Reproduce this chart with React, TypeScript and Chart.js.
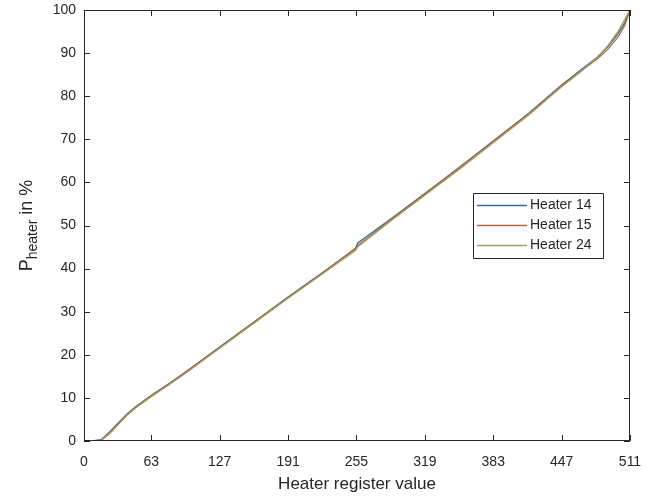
import React, { useEffect, useRef } from "react";
import { Chart, registerables } from "chart.js";

Chart.register(...registerables);

const registers = [0, 8, 16, 24, 32, 40, 48, 63, 80, 96, 127, 160, 191, 224, 254, 256, 288, 319, 352, 383, 416, 447, 464, 480, 490, 500, 506, 511];
const heater14 = [0, 0, 0.3, 2.1, 4.2, 6.2, 7.9, 10.6, 13.4, 16.2, 21.8, 27.8, 33.4, 39.2, 44.6, 45.9, 51.7, 57.4, 63.6, 69.6, 76.0, 82.6, 85.9, 89.0, 91.4, 94.6, 97.0, 100];
const heater15 = [0, 0, 0.2, 1.9, 4.0, 6.0, 7.8, 10.5, 13.3, 16.1, 21.7, 27.7, 33.3, 39.1, 44.7, 45.3, 51.5, 57.3, 63.5, 69.5, 75.9, 82.5, 85.6, 88.6, 90.8, 93.8, 96.4, 100];
const heater24 = [0, 0, 0.1, 1.7, 3.8, 5.9, 7.6, 10.3, 13.1, 15.9, 21.5, 27.5, 33.1, 38.9, 44.2, 45.0, 51.2, 57.0, 63.2, 69.2, 75.6, 82.2, 85.5, 88.9, 91.6, 95.1, 97.8, 100];

const seriesNames = ["Heater 14", "Heater 15", "Heater 24"];
const seriesColors = ["#2f6d9e", "#b4643e", "#a39e62"];
const xTicks = [0, 63, 127, 191, 255, 319, 383, 447, 511];
const yTicks = [0, 10, 20, 30, 40, 50, 60, 70, 80, 90, 100];

const FONT = "'Liberation Sans', Arial, Helvetica, sans-serif";
const INK = "#262626";

const decorPlugin = {
  id: "decor",
  afterDatasetsDraw(chart: any) {
    const { ctx, chartArea, scales } = chart;
    const { left, right, top, bottom } = chartArea;
    const x = scales.x;
    const y = scales.y;
    ctx.save();
    ctx.strokeStyle = INK;
    ctx.lineWidth = 1;
    ctx.beginPath();
    ctx.rect(left + 0.5, top + 0.5, right - left - 1, bottom - top - 1);
    ctx.stroke();
    const tl = 6;
    ctx.beginPath();
    xTicks.forEach((v) => {
      const px = Math.round(x.getPixelForValue(v)) + 0.5;
      ctx.moveTo(px, bottom);
      ctx.lineTo(px, bottom - tl);
      ctx.moveTo(px, top);
      ctx.lineTo(px, top + tl);
    });
    yTicks.forEach((v) => {
      const py = Math.round(y.getPixelForValue(v)) + 0.5;
      ctx.moveTo(left, py);
      ctx.lineTo(left + tl, py);
      ctx.moveTo(right, py);
      ctx.lineTo(right - tl, py);
    });
    ctx.stroke();

    // legend
    const bw = 130;
    const bh = 65;
    const bx = right - 157;
    const by = top + 183;
    ctx.fillStyle = "#ffffff";
    ctx.fillRect(bx, by, bw, bh);
    ctx.strokeStyle = INK;
    ctx.beginPath();
    ctx.rect(bx + 0.5, by + 0.5, bw, bh);
    ctx.stroke();
    ctx.font = `14px ${FONT}`;
    ctx.textBaseline = "middle";
    ctx.textAlign = "left";
    chart.data.datasets.forEach((ds: any, i: number) => {
      const ly = by + 12.5 + i * 20;
      ctx.strokeStyle = ds.borderColor;
      ctx.lineWidth = 1.3;
      ctx.beginPath();
      ctx.moveTo(bx + 4, ly);
      ctx.lineTo(bx + 54, ly);
      ctx.stroke();
      ctx.fillStyle = INK;
      ctx.fillText(ds.label, bx + 57, ly);
    });
    ctx.restore();
  },
  afterDraw(chart: any) {
    const { ctx, chartArea } = chart;
    const cy = (chartArea.top + chartArea.bottom) / 2;
    ctx.save();
    ctx.translate(32, cy);
    ctx.rotate(-Math.PI / 2);
    ctx.fillStyle = INK;
    ctx.textBaseline = "alphabetic";
    ctx.textAlign = "left";
    const big = `18px ${FONT}`;
    const small = `14px ${FONT}`;
    const p = "P";
    const sub = "heater";
    const rest = " in %";
    ctx.font = big;
    const wP = ctx.measureText(p).width;
    const wRest = ctx.measureText(rest).width;
    ctx.font = small;
    const wSub = ctx.measureText(sub).width;
    const total = wP + wSub + wRest;
    let u = -total / 2;
    ctx.font = big;
    ctx.fillText(p, u, 0);
    u += wP;
    ctx.font = small;
    ctx.fillText(sub, u, 5);
    u += wSub;
    ctx.font = big;
    ctx.fillText(rest, u, 0);
    ctx.restore();
  },
};

export default function App() {
  const ref = useRef<HTMLCanvasElement | null>(null);
  useEffect(() => {
    if (!ref.current) return;
    Chart.defaults.font.family = FONT;
    const series = [heater14, heater15, heater24];
    const chart = new Chart(ref.current, {
      type: "line",
      data: {
        datasets: series.map((vals, i) => ({
          label: seriesNames[i],
          data: registers.map((r, k) => ({ x: r, y: vals[k] })),
          borderColor: seriesColors[i],
          backgroundColor: seriesColors[i],
          borderWidth: 1.3,
          pointRadius: 0,
          tension: 0,
          fill: false,
          order: 2 - i,
        })),
      },
      options: {
        responsive: false,
        animation: false,
        layout: { padding: { top: 10, right: 27, bottom: 2, left: 0 } },
        plugins: { legend: { display: false }, tooltip: { enabled: false } },
        scales: {
          x: {
            type: "linear",
            min: 0,
            max: 511,
            afterBuildTicks: (s: any) => {
              s.ticks = xTicks.map((v) => ({ value: v }));
            },
            afterFit: (s: any) => {
              s.height = 54;
              s.paddingLeft = 0;
              s.paddingRight = 0;
            },
            grid: { display: false, drawTicks: false },
            border: { display: false },
            ticks: {
              color: INK,
              font: { size: 14 },
              padding: 13,
              maxRotation: 0,
              autoSkip: false,
              callback: (v: any) => String(v),
            },
            title: {
              display: true,
              text: "Heater register value",
              color: INK,
              font: { size: 17 },
              padding: 0,
            },
          },
          y: {
            type: "linear",
            min: 0,
            max: 100,
            afterBuildTicks: (s: any) => {
              s.ticks = yTicks.map((v) => ({ value: v }));
            },
            afterFit: (s: any) => {
              s.width = 84;
              s.paddingTop = 0;
              s.paddingBottom = 0;
            },
            grid: { display: false, drawTicks: false },
            border: { display: false },
            ticks: {
              color: INK,
              font: { size: 14 },
              padding: 8,
              autoSkip: false,
              callback: (v: any) => String(v),
            },
          },
        },
      },
      plugins: [decorPlugin],
    });
    return () => chart.destroy();
  }, []);
  return (
    <div style={{ position: "absolute", left: 0, top: 0, width: 657, height: 497, background: "#fff" }}>
      <canvas ref={ref} width={657} height={497} style={{ display: "block" }} />
    </div>
  );
}
